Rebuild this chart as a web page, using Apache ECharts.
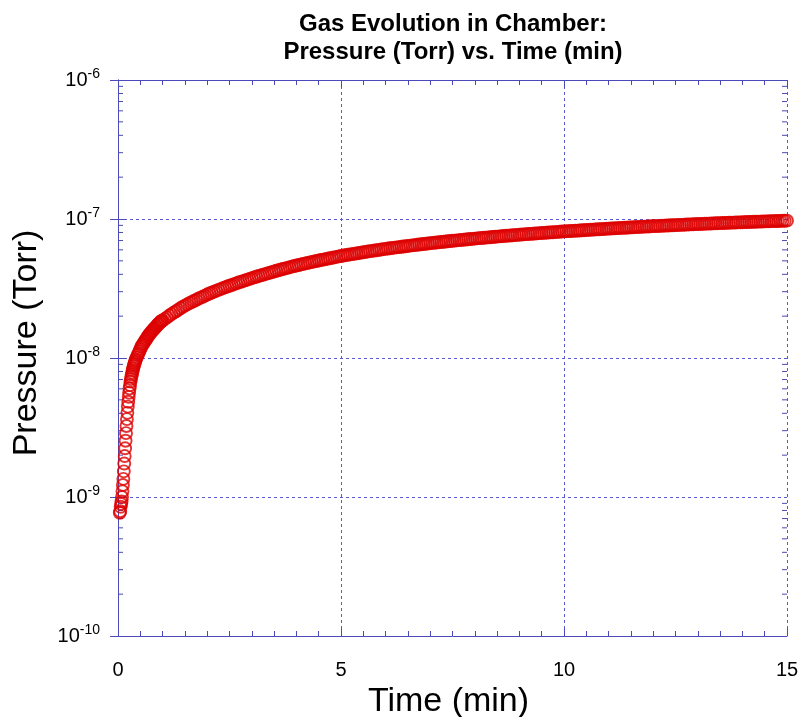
<!DOCTYPE html>
<html>
<head>
<meta charset="utf-8">
<script src="https://cdn.jsdelivr.net/npm/echarts@6/dist/echarts.min.js"></script>
<style>
html, body {margin: 0; padding: 0; background: #fff;}
#chart {width: 799px; height: 717px;}
</style>
</head>
<body>
<div id="chart"></div>
<script>
// time of each reading (min)
var timeMin = [
	0.04, 0.05, 0.06, 0.07, 0.08, 0.09, 0.10, 0.11, 0.12, 0.13,
	0.14, 0.15, 0.16, 0.17, 0.18, 0.19, 0.20, 0.21, 0.22, 0.23,
	0.24, 0.25, 0.26, 0.27, 0.28, 0.29, 0.30, 0.31, 0.32, 0.33,
	0.34, 0.35, 0.36, 0.37, 0.38, 0.39, 0.40,
	0.42, 0.44, 0.46, 0.48, 0.50, 0.52, 0.54, 0.56, 0.58, 0.60,
	0.62, 0.64, 0.66, 0.68, 0.70, 0.72, 0.74, 0.76, 0.78, 0.80,
	0.82, 0.84, 0.86, 0.88, 0.90, 0.92, 0.94, 0.96, 0.98,
	1.00, 1.05, 1.10, 1.15, 1.20, 1.25, 1.30, 1.35, 1.40, 1.45,
	1.50, 1.55, 1.60, 1.65, 1.70, 1.75, 1.80, 1.85, 1.90, 1.95,
	2.00, 2.05, 2.10, 2.15, 2.20, 2.25, 2.30, 2.35, 2.40, 2.45,
	2.50, 2.55, 2.60, 2.65, 2.70, 2.75, 2.80, 2.85, 2.90, 2.95,
	3.00, 3.05, 3.10, 3.15, 3.20, 3.25, 3.30, 3.35, 3.40, 3.45, 3.50, 3.55, 3.60, 3.65, 3.70, 3.75, 3.80, 3.85, 3.90, 3.95,
	4.00, 4.05, 4.10, 4.15, 4.20, 4.25, 4.30, 4.35, 4.40, 4.45, 4.50, 4.55, 4.60, 4.65, 4.70, 4.75, 4.80, 4.85, 4.90, 4.95,
	5.00, 5.05, 5.10, 5.15, 5.20, 5.25, 5.30, 5.35, 5.40, 5.45, 5.50, 5.55, 5.60, 5.65, 5.70, 5.75, 5.80, 5.85, 5.90, 5.95,
	6.00, 6.05, 6.10, 6.15, 6.20, 6.25, 6.30, 6.35, 6.40, 6.45, 6.50, 6.55, 6.60, 6.65, 6.70, 6.75, 6.80, 6.85, 6.90, 6.95,
	7.00, 7.05, 7.10, 7.15, 7.20, 7.25, 7.30, 7.35, 7.40, 7.45, 7.50, 7.55, 7.60, 7.65, 7.70, 7.75, 7.80, 7.85, 7.90, 7.95,
	8.00, 8.05, 8.10, 8.15, 8.20, 8.25, 8.30, 8.35, 8.40, 8.45, 8.50, 8.55, 8.60, 8.65, 8.70, 8.75, 8.80, 8.85, 8.90, 8.95,
	9.00, 9.05, 9.10, 9.15, 9.20, 9.25, 9.30, 9.35, 9.40, 9.45, 9.50, 9.55, 9.60, 9.65, 9.70, 9.75, 9.80, 9.85, 9.90, 9.95,
	10.00, 10.05, 10.10, 10.15, 10.20, 10.25, 10.30, 10.35, 10.40, 10.45, 10.50, 10.55, 10.60, 10.65, 10.70, 10.75, 10.80, 10.85, 10.90, 10.95,
	11.00, 11.05, 11.10, 11.15, 11.20, 11.25, 11.30, 11.35, 11.40, 11.45, 11.50, 11.55, 11.60, 11.65, 11.70, 11.75, 11.80, 11.85, 11.90, 11.95,
	12.00, 12.05, 12.10, 12.15, 12.20, 12.25, 12.30, 12.35, 12.40, 12.45, 12.50, 12.55, 12.60, 12.65, 12.70, 12.75, 12.80, 12.85, 12.90, 12.95,
	13.00, 13.05, 13.10, 13.15, 13.20, 13.25, 13.30, 13.35, 13.40, 13.45, 13.50, 13.55, 13.60, 13.65, 13.70, 13.75, 13.80, 13.85, 13.90, 13.95,
	14.00, 14.05, 14.10, 14.15, 14.20, 14.25, 14.30, 14.35, 14.40, 14.45, 14.50, 14.55, 14.60, 14.65, 14.70, 14.75, 14.80, 14.85, 14.90, 14.95,
	15.00
];

// pressure, in units of 1e-9 Torr
var pressureNTorr = [
	0.77, 0.79, 0.85, 0.89, 0.93, 1.00, 1.10, 1.22, 1.35, 1.53,
	1.74, 1.97, 2.24, 2.54, 2.88, 3.24, 3.63, 4.03, 4.47, 4.84,
	5.25, 5.62, 6.03, 6.38, 6.76, 7.05, 7.33, 7.59, 7.85, 8.13,
	8.41, 8.67, 8.91, 9.12, 9.33, 9.55, 9.77,
	10.1, 10.5, 10.8, 11.2, 11.6, 12.0, 12.3, 12.6, 12.9, 13.2,
	13.5, 13.8, 14.1, 14.5, 14.7, 15.0, 15.3, 15.6, 15.8, 16.1,
	16.4, 16.6, 16.9, 17.2, 17.5, 17.7, 18.0, 18.3, 18.5,
	18.6, 19.1, 19.6, 20.2, 20.7, 21.2, 21.7, 22.2, 22.8, 23.3,
	23.8, 24.3, 24.8, 25.2, 25.7, 26.2, 26.7, 27.2, 27.6, 28.1,
	28.6, 29.1, 29.5, 30.0, 30.4, 30.9, 31.3, 31.8, 32.2, 32.7,
	33.1, 33.5, 34.0, 34.4, 34.9, 35.3, 35.7, 36.2, 36.6, 37.1,
	37.5, 38.0, 38.4, 38.9, 39.3, 39.7, 40.1, 40.6, 41.0, 41.5, 41.9, 42.4, 42.8, 43.3, 43.7, 44.1, 44.5, 45.0, 45.4, 45.9,
	46.3, 46.7, 47.1, 47.5, 47.9, 48.3, 48.7, 49.1, 49.5, 49.9, 50.3, 50.7, 51.0, 51.4, 51.8, 52.2, 52.6, 53.0, 53.4, 53.8,
	54.2, 54.6, 54.9, 55.3, 55.6, 55.9, 56.2, 56.6, 56.9, 57.3, 57.6, 58.0, 58.3, 58.7, 59.0, 59.3, 59.6, 60.0, 60.3, 60.7,
	61.0, 61.3, 61.6, 61.9, 62.2, 62.5, 62.8, 63.1, 63.4, 63.7, 64.0, 64.3, 64.6, 64.9, 65.2, 65.5, 65.8, 66.1, 66.4, 66.7,
	67.0, 67.3, 67.5, 67.8, 68.1, 68.3, 68.6, 68.9, 69.1, 69.4, 69.7, 69.9, 70.2, 70.5, 70.7, 71.0, 71.2, 71.5, 71.8, 72.0,
	72.3, 72.5, 72.8, 73.0, 73.3, 73.5, 73.7, 74.0, 74.2, 74.5, 74.7, 75.0, 75.2, 75.5, 75.7, 75.9, 76.1, 76.4, 76.6, 76.9,
	77.1, 77.3, 77.5, 77.8, 78.0, 78.2, 78.4, 78.6, 78.8, 79.1, 79.3, 79.5, 79.7, 79.9, 80.1, 80.3, 80.5, 80.8, 81.0, 81.2,
	81.4, 81.6, 81.8, 82.0, 82.2, 82.3, 82.5, 82.7, 82.9, 83.1, 83.3, 83.5, 83.7, 83.9, 84.1, 84.3, 84.4, 84.6, 84.8, 85.0,
	85.2, 85.4, 85.6, 85.7, 85.9, 86.1, 86.3, 86.4, 86.6, 86.8, 87.0, 87.2, 87.4, 87.5, 87.7, 87.9, 88.1, 88.2, 88.4, 88.6,
	88.8, 88.9, 89.1, 89.2, 89.4, 89.6, 89.8, 89.9, 90.1, 90.2, 90.4, 90.5, 90.7, 90.8, 91.0, 91.2, 91.4, 91.5, 91.7, 91.8,
	92.0, 92.1, 92.3, 92.4, 92.6, 92.7, 92.8, 93.0, 93.1, 93.3, 93.4, 93.5, 93.7, 93.8, 94.0, 94.1, 94.2, 94.4, 94.5, 94.6,
	94.8, 94.9, 95.1, 95.2, 95.3, 95.5, 95.6, 95.7, 95.8, 96.0, 96.1, 96.2, 96.3, 96.5, 96.6, 96.7, 96.8, 97.0, 97.1, 97.2,
	97.3
];

// axis ticks
var xTicks = [0, 5, 10, 15];
var yDecades = [-10, -9, -8, -7, -6];
var yMinorSteps = [2, 3, 4, 5, 6, 7, 8, 9];

var axisColor = '#4a4ab8';
var gridColor = '#5a5ad0';
var markColor = '#dd0000';
var fontName = 'Liberation Sans';

var seriesData = [];
for (var i = 0; i < timeMin.length; i++) {
	seriesData.push([timeMin[i], pressureNTorr[i] * 1e-9]);
}

// 10^n label
function expLabel(value) {
	var e = Math.round(Math.log(value) / Math.LN10);
	return '{b|10}{s|' + e + '}';
}

var tickLine = {color: axisColor, width: 1};

var option = {
	animation: false,
	backgroundColor: '#fff',
	title: {
		text: 'Gas Evolution in Chamber:\nPressure (Torr) vs. Time (min)',
		left: 448, top: 5, textAlign: 'center',
		textStyle: {fontFamily: fontName, fontSize: 24, fontWeight: 'bold', color: '#000', lineHeight: 28}
	},
	grid: {left: 118, top: 80, right: 12, bottom: 81, containLabel: false, outerBoundsMode: 'none'},
	xAxis: [
		{
			type: 'value', position: 'bottom',
			min: xTicks[0], max: xTicks[xTicks.length - 1], interval: 5,
			axisLine: {show: true, lineStyle: tickLine},
			axisTick: {show: true, inside: true, length: 8, lineStyle: tickLine},
			minorTick: {show: true, splitNumber: 10, length: 5, lineStyle: tickLine},
			axisLabel: {color: '#000', fontFamily: fontName, fontSize: 20, margin: 24},
			splitLine: {show: true, lineStyle: {color: gridColor, width: 1, type: [3, 3]}},
			name: 'Time (min)', nameLocation: 'middle', nameGap: 37,
			nameTextStyle: {fontFamily: fontName, fontSize: 34, color: '#000', padding: [0, 8, 0, 0]}
		},
		{
			type: 'value', position: 'top',
			min: xTicks[0], max: xTicks[xTicks.length - 1], interval: 5,
			axisLine: {show: true, lineStyle: tickLine},
			axisTick: {show: true, inside: true, length: 8, lineStyle: tickLine},
			minorTick: {show: true, splitNumber: 10, length: 5, lineStyle: tickLine},
			axisLabel: {show: false},
			splitLine: {show: false}
		}
	],
	yAxis: [
		{
			type: 'log', logBase: 10, position: 'left',
			min: Math.pow(10, yDecades[0]), max: Math.pow(10, yDecades[yDecades.length - 1]),
			axisLine: {show: true, lineStyle: tickLine},
			axisTick: {show: true, inside: true, length: 8, lineStyle: tickLine},
			minorTick: {show: false},
			axisLabel: {
				formatter: expLabel, margin: 18,
				rich: {
					b: {fontFamily: fontName, fontSize: 20, color: '#000'},
					s: {fontFamily: fontName, fontSize: 14, color: '#000', padding: [0, 0, 12, 0]}
				}
			},
			splitLine: {show: true, lineStyle: {color: gridColor, width: 1, type: [3, 3]}},
			name: 'Pressure (Torr)', nameLocation: 'middle', nameGap: 74,
			nameTextStyle: {fontFamily: fontName, fontSize: 34, color: '#000', padding: [0, 0, 0, 30]}
		},
		{
			type: 'log', logBase: 10, position: 'right',
			min: Math.pow(10, yDecades[0]), max: Math.pow(10, yDecades[yDecades.length - 1]),
			axisLine: {show: true, lineStyle: tickLine},
			axisTick: {show: true, inside: true, length: 8, lineStyle: tickLine},
			minorTick: {show: false},
			axisLabel: {show: false},
			splitLine: {show: false}
		}
	],
	series: [
		{
			name: 'Pressure',
			type: 'scatter',
			xAxisIndex: 0, yAxisIndex: 0,
			symbol: 'circle',
			symbolSize: 12,
			silent: true,
			itemStyle: {color: 'rgba(0,0,0,0)', borderColor: markColor, borderWidth: 1.9},
			data: seriesData
		}
	]
};

var myChart = echarts.init(document.getElementById('chart'));
myChart.setOption(option);

// log minor ticks (2..9 in each decade) on left and right axes
var xLeft = myChart.convertToPixel({xAxisIndex: 0}, xTicks[0]);
var xRight = myChart.convertToPixel({xAxisIndex: 0}, xTicks[xTicks.length - 1]);
var minorMarks = [];
for (var d = 0; d < yDecades.length - 1; d++) {
	for (var k = 0; k < yMinorSteps.length; k++) {
		var y = myChart.convertToPixel({yAxisIndex: 0}, yMinorSteps[k] * Math.pow(10, yDecades[d]));
		minorMarks.push({type: 'line', silent: true, shape: {x1: xLeft, y1: y, x2: xLeft + 5, y2: y}, style: {stroke: axisColor, lineWidth: 1}});
		minorMarks.push({type: 'line', silent: true, shape: {x1: xRight - 5, y1: y, x2: xRight, y2: y}, style: {stroke: axisColor, lineWidth: 1}});
	}
}
myChart.setOption({graphic: minorMarks});
</script>
</body>
</html>
